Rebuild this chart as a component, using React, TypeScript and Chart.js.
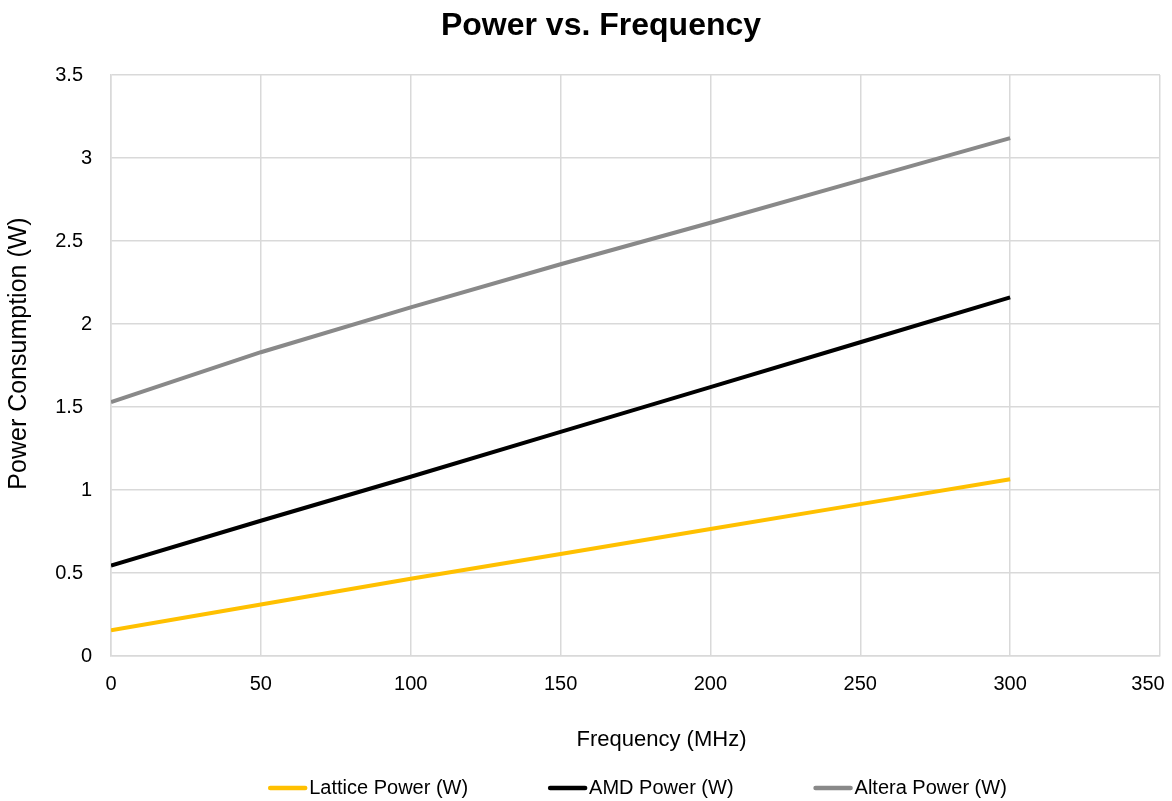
import React, { useEffect, useRef } from "react";
import { Chart, registerables } from "chart.js";

Chart.register(...registerables);

const frequencies = [0, 50, 100, 150, 200, 250, 300];
const latticePower = [0.155, 0.31, 0.465, 0.615, 0.765, 0.915, 1.065];
const amdPower = [0.545, 0.815, 1.08, 1.35, 1.62, 1.89, 2.16];
const alteraPower = [1.53, 1.83, 2.1, 2.36, 2.61, 2.865, 3.12];

const seriesNames = ["Lattice Power (W)", "AMD Power (W)", "Altera Power (W)"];
const seriesColors = ["#FFC000", "#000000", "#898989"];

const FONT = "'Liberation Sans', Arial, sans-serif";

function wrapDraw(obj: any, method: string, dx: number, dy: number) {
  if (!obj || obj["__wrapped_" + method]) return;
  const orig = obj[method].bind(obj);
  obj[method] = function (...args: any[]) {
    const ctx = obj.ctx as CanvasRenderingContext2D;
    ctx.save();
    ctx.translate(dx, dy);
    const r = orig(...args);
    ctx.restore();
    return r;
  };
  obj["__wrapped_" + method] = true;
}

const excelTweaks = {
  id: "excelTweaks",
  afterLayout(chart: any) {
    wrapDraw(chart.titleBlock, "draw", 13, 1);
    wrapDraw(chart.scales.x, "drawTitle", 26, 0);
    wrapDraw(chart.scales.y, "drawTitle", 0, -12);
  },
  beforeDraw(chart: any) {
    const xItems = chart.scales.x.getLabelItems();
    const last = xItems[xItems.length - 1];
    if (last && !last.__shifted) {
      last.options.translation[0] -= 12;
      last.__shifted = true;
    }
    const yItems = chart.scales.y.getLabelItems();
    for (const it of yItems) {
      if (String(it.label).includes(".") && !it.__shifted) {
        it.options.translation[0] -= 9;
        it.__shifted = true;
      }
    }
  },
};

const bottomLegend = {
  id: "bottomLegend",
  afterDraw(chart: any) {
    const ctx = chart.ctx as CanvasRenderingContext2D;
    const swatch = 39;
    const gapText = 2;
    const gapItem = 80;
    const y = 788;
    ctx.save();
    ctx.font = `20px ${FONT}`;
    ctx.textBaseline = "middle";
    ctx.textAlign = "left";
    const items = chart.data.datasets.map((ds: any) => ({
      label: ds.label as string,
      color: ds.borderColor as string,
      w: swatch + gapText + ctx.measureText(ds.label).width,
    }));
    const total =
      items.reduce((a: number, it: any) => a + it.w, 0) + gapItem * (items.length - 1);
    const center = (chart.chartArea.left + chart.chartArea.right) / 2 + 2;
    let x = center - total / 2;
    for (const it of items) {
      ctx.strokeStyle = it.color;
      ctx.lineWidth = 4.5;
      ctx.lineCap = "round";
      ctx.beginPath();
      ctx.moveTo(x + 2, y);
      ctx.lineTo(x + swatch - 2, y);
      ctx.stroke();
      ctx.fillStyle = "#000";
      ctx.fillText(it.label, x + swatch + gapText, y);
      x += it.w + gapItem;
    }
    ctx.restore();
  },
};

export default function App() {
  const canvasRef = useRef<HTMLCanvasElement>(null);

  useEffect(() => {
    document.body.style.margin = "0";
    const ctx = canvasRef.current!;
    const toPts = (ys: number[]) => frequencies.map((x, i) => ({ x, y: ys[i] }));
    const allSeries = [latticePower, amdPower, alteraPower];
    const chart = new Chart(ctx, {
      type: "line",
      data: {
        datasets: allSeries.map((ys, i) => ({
          label: seriesNames[i],
          data: toPts(ys),
          borderColor: seriesColors[i],
          backgroundColor: seriesColors[i],
          borderWidth: 4,
          pointRadius: 0,
          tension: 0,
          fill: false,
        })),
      },
      plugins: [excelTweaks, bottomLegend],
      options: {
        animation: false,
        responsive: false,
        maintainAspectRatio: false,
        layout: { padding: { left: 4, right: 0, top: 0, bottom: 30 } },
        plugins: {
          title: {
            display: true,
            text: "Power vs. Frequency",
            color: "#000",
            font: { family: FONT, size: 32, weight: "bold" },
            padding: { top: 6, bottom: 30.6 },
          },
          legend: { display: false },
          tooltip: { enabled: false },
        },
        scales: {
          x: {
            type: "linear",
            min: 0,
            max: 350,
            ticks: {
              stepSize: 50,
              color: "#000",
              font: { family: FONT, size: 20 },
              padding: 16,
              maxRotation: 0,
            },
            grid: { color: "#d9d9d9", lineWidth: 1.5, drawTicks: false },
            border: { color: "#d9d9d9", width: 1.5 },
            title: {
              display: true,
              text: "Frequency (MHz)",
              color: "#000",
              font: { family: FONT, size: 22 },
              padding: { top: 4, bottom: 18 },
            },
            afterFit: (s: any) => {
              s.height = 115;
              s.paddingRight = 12;
              s.paddingLeft = 0;
            },
          },
          y: {
            type: "linear",
            min: 0,
            max: 3.5,
            ticks: {
              stepSize: 0.5,
              color: "#000",
              font: { family: FONT, size: 20 },
              padding: 19,
              callback: (v: any) => String(v),
            },
            grid: { color: "#d9d9d9", lineWidth: 1.5, drawTicks: false },
            border: { color: "#d9d9d9", width: 1.5 },
            title: {
              display: true,
              text: "Power Consumption (W)",
              color: "#000",
              font: { family: FONT, size: 25 },
              padding: { top: 0, bottom: 4 },
            },
            afterFit: (s: any) => {
              s.width = 107;
            },
          },
        },
      },
    });
    return () => chart.destroy();
  }, []);

  return (
    <div style={{ width: 1172, height: 801, background: "#fff" }}>
      <canvas ref={canvasRef} width={1172} height={801} style={{ display: "block" }} />
    </div>
  );
}
